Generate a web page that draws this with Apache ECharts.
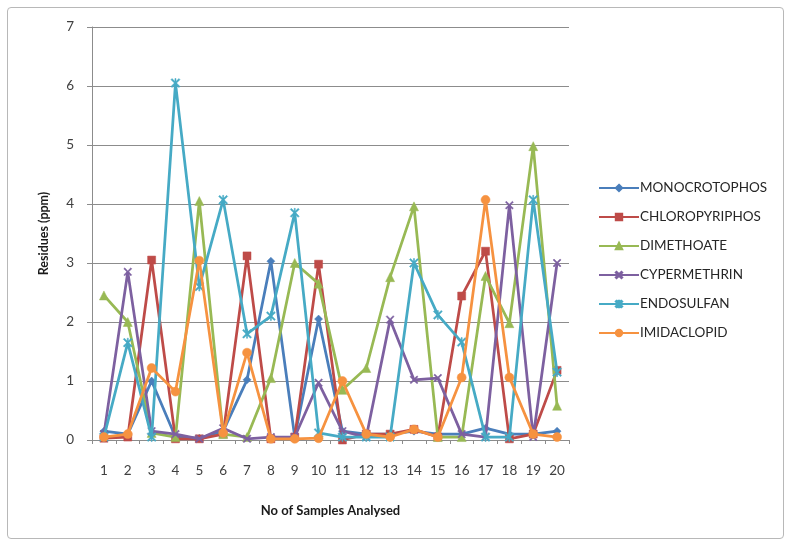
<!DOCTYPE html>
<html>
<head>
<meta charset="utf-8">
<script src="https://cdn.jsdelivr.net/npm/echarts@6/dist/echarts.min.js"></script>
<style>
  html, body { margin: 0; padding: 0; background: #ffffff; }
  #frame { position: absolute; left: 7px; top: 7px; width: 777px; height: 532px;
           border: 1px solid #b8b8b8; border-radius: 4px; box-sizing: border-box; }
  #chart { position: absolute; left: 0; top: 0; width: 793px; height: 546px; }
</style>
</head>
<body>
<div id="frame"></div>
<div id="chart"></div>
<script>
// Sample numbers on the x axis
const samples = ['1','2','3','4','5','6','7','8','9','10','11','12','13','14','15','16','17','18','19','20'];

// Residue levels (ppm) per pesticide, one value per sample
const monocrotophos = [0.15, 0.10, 1.00, 0.05, 0.03, 0.15, 1.02, 3.03, 0.05, 2.05, 0.15, 0.10, 0.10, 0.15, 0.10, 0.10, 0.20, 0.10, 0.10, 0.15];
const chloropyriphos = [0.03, 0.05, 3.05, 0.02, 0.02, 0.10, 3.12, 0.02, 0.05, 2.98, 0.00, 0.10, 0.10, 0.18, 0.05, 2.44, 3.20, 0.02, 0.10, 1.18];
const dimethoate = [2.45, 2.00, 0.12, 0.05, 4.05, 0.10, 0.05, 1.05, 3.00, 2.65, 0.85, 1.22, 2.76, 3.96, 0.05, 0.05, 2.78, 1.98, 4.98, 0.58];
const cypermethrin = [0.10, 2.85, 0.15, 0.10, 0.02, 0.20, 0.02, 0.05, 0.05, 0.97, 0.15, 0.05, 2.04, 1.02, 1.05, 0.10, 0.05, 3.98, 0.05, 3.00];
const endosulfan = [0.05, 1.65, 0.05, 6.05, 2.60, 4.07, 1.80, 2.10, 3.85, 0.12, 0.05, 0.05, 0.05, 3.00, 2.12, 1.66, 0.05, 0.05, 4.07, 1.15];
const imidaclopid = [0.05, 0.10, 1.22, 0.82, 3.04, 0.12, 1.48, 0.02, 0.02, 0.03, 1.00, 0.10, 0.05, 0.18, 0.05, 1.06, 4.07, 1.06, 0.10, 0.05];

const seriesNames = ['MONOCROTOPHOS', 'CHLOROPYRIPHOS', 'DIMETHOATE', 'CYPERMETHRIN', 'ENDOSULFAN', 'IMIDACLOPID'];
const seriesData = [monocrotophos, chloropyriphos, dimethoate, cypermethrin, endosulfan, imidaclopid];
const colors = ['#4a7ebb', '#be4b48', '#98b954', '#7d60a0', '#46aac5', '#f69240'];

// Marker shapes: diamond, square, triangle, cross, asterisk, circle
const crossPath = 'path://M0,1.2L1.2,0L5,3.8L8.8,0L10,1.2L6.2,5L10,8.8L8.8,10L5,6.2L1.2,10L0,8.8L3.8,5Z';
const starPath = 'path://M0,1.2L1.2,0L5,3.8L8.8,0L10,1.2L6.2,5L10,8.8L8.8,10L5,6.2L1.2,10L0,8.8L3.8,5Z M4.4,0L5.6,0L5.6,10L4.4,10Z';
const symbols = ['diamond', 'rect', 'triangle', crossPath, starPath, 'circle'];
const symbolSizes = [8, 8, 9, 8, 9, 9];

const chart = echarts.init(document.getElementById('chart'), null, { renderer: 'canvas' });

const series = seriesNames.map((name, i) => ({
  name: name,
  type: 'line',
  data: seriesData[i],
  symbol: symbols[i],
  symbolSize: symbolSizes[i],
  showAllSymbol: true,
  lineStyle: { color: colors[i], width: 2.75 },
  itemStyle: { color: colors[i], borderColor: colors[i], borderWidth: 0.5 },
  emphasis: { disabled: true },
  animation: false,
  z: 2 + i
}));

chart.setOption({
  backgroundColor: 'transparent',
  animation: false,
  grid: { left: 92, right: 224, top: 27, bottom: 106, containLabel: false },
  legend: {
    orient: 'vertical',
    left: 593,
    top: 176,
    itemGap: 15,
    itemWidth: 40,
    itemHeight: 8,
    textStyle: { fontFamily: 'Lato', fontSize: 13.5, color: '#262626', padding: [0, 0, 0, -4] },
    data: seriesNames
  },
  xAxis: {
    type: 'category',
    data: samples,
    boundaryGap: true,
    name: 'No of Samples Analysed',
    nameLocation: 'middle',
    nameGap: 64,
    nameTextStyle: { fontFamily: 'Lato', fontWeight: 'bold', fontSize: 13, color: '#1a1a1a' },
    axisLine: { lineStyle: { color: '#8c8c8c', width: 1 } },
    axisTick: { show: true, alignWithLabel: false, length: 4, lineStyle: { color: '#8c8c8c' } },
    axisLabel: { fontFamily: 'Lato', fontSize: 13.5, color: '#404040', margin: 24, interval: 0 },
    splitLine: { show: false }
  },
  yAxis: {
    type: 'value',
    min: 0,
    max: 7,
    interval: 1,
    name: 'Residues (ppm)',
    nameLocation: 'middle',
    nameGap: 42,
    nameRotate: 90,
    nameTextStyle: { fontFamily: 'Lato', fontWeight: 'bold', fontSize: 12.5, color: '#1a1a1a' },
    axisLine: { show: true, lineStyle: { color: '#8c8c8c', width: 1 } },
    axisTick: { show: true, inside: false, length: 5, lineStyle: { color: '#8c8c8c' } },
    axisLabel: { fontFamily: 'Lato', fontSize: 13.5, color: '#404040', margin: 18 },
    splitLine: { show: true, lineStyle: { color: '#8c8c8c', width: 1 } }
  },
  series: series
});
</script>
</body>
</html>
